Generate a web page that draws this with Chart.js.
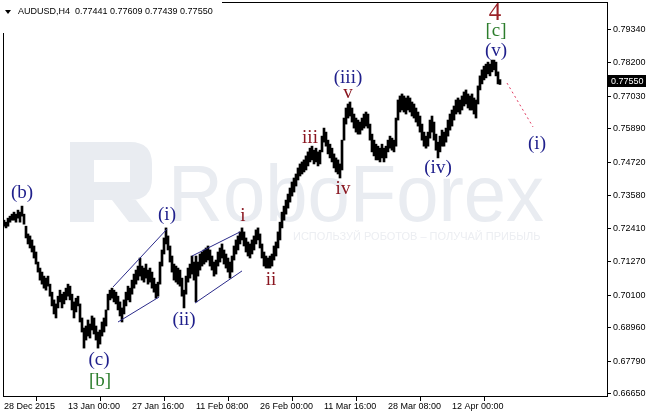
<!DOCTYPE html>
<html>
<head>
<meta charset="utf-8">
<script src="https://cdn.jsdelivr.net/npm/chart.js@4.4.1/dist/chart.umd.min.js"></script>
<style>
  html, body { margin: 0; padding: 0; background: #fff; }
  #wrap { width: 646px; height: 414px; }
</style>
</head>
<body>
<div id="wrap"><canvas id="chart" width="646" height="414"></canvas></div>
<script>
/* ---------- AUDUSD H4 bars ---------- */
const highs = [
  0.7271,0.7264,0.7278,0.7285,0.7292,0.7299,0.7292,0.7306,0.7299,0.7320,
  0.7292,0.7250,0.7223,0.7216,0.7202,0.7181,0.7160,0.7125,0.7104,0.7090,
  0.7076,0.7069,0.7076,0.7048,0.7020,0.6993,0.6979,0.7006,0.7027,0.7013,
  0.7020,0.7034,0.7048,0.7041,0.7013,0.6986,0.6999,0.7006,0.6979,0.6930,
  0.6895,0.6902,0.6923,0.6909,0.6937,0.6930,0.6902,0.6881,0.6888,0.6916,
  0.6930,0.6958,0.7013,0.7027,0.7034,0.7027,0.7020,0.7006,0.6986,0.6965,
  0.6993,0.7020,0.7041,0.7034,0.7062,0.7083,0.7097,0.7111,0.7139,0.7111,
  0.7104,0.7118,0.7097,0.7104,0.7090,0.7069,0.7048,0.7055,0.7125,0.7167,
  0.7209,0.7244,0.7216,0.7181,0.7146,0.7118,0.7111,0.7104,0.7097,0.7069,
  0.7027,0.7076,0.7104,0.7118,0.7146,0.7125,0.7146,0.7125,0.7153,0.7160,
  0.7167,0.7174,0.7181,0.7167,0.7146,0.7125,0.7132,0.7160,0.7174,0.7188,
  0.7167,0.7153,0.7139,0.7125,0.7146,0.7181,0.7202,0.7216,0.7230,0.7244,
  0.7230,0.7209,0.7195,0.7188,0.7202,0.7216,0.7237,0.7244,0.7223,0.7188,
  0.7160,0.7146,0.7139,0.7146,0.7153,0.7181,0.7195,0.7230,0.7264,0.7299,
  0.7320,0.7341,0.7362,0.7383,0.7404,0.7418,0.7432,0.7453,0.7467,0.7474,
  0.7481,0.7495,0.7509,0.7522,0.7529,0.7515,0.7522,0.7509,0.7515,0.7564,
  0.7592,0.7578,0.7550,0.7536,0.7522,0.7502,0.7488,0.7481,0.7467,0.7550,
  0.7627,0.7662,0.7676,0.7683,0.7662,0.7641,0.7627,0.7620,0.7613,0.7627,
  0.7641,0.7648,0.7641,0.7606,0.7571,0.7550,0.7536,0.7529,0.7522,0.7536,
  0.7522,0.7529,0.7550,0.7564,0.7557,0.7550,0.7627,0.7690,0.7704,0.7711,
  0.7704,0.7697,0.7704,0.7697,0.7683,0.7676,0.7662,0.7648,0.7634,0.7606,
  0.7578,0.7564,0.7578,0.7620,0.7634,0.7613,0.7571,0.7543,0.7564,0.7585,
  0.7578,0.7592,0.7620,0.7641,0.7655,0.7669,0.7690,0.7697,0.7690,0.7704,
  0.7718,0.7725,0.7711,0.7704,0.7711,0.7697,0.7690,0.7739,0.7774,0.7795,
  0.7808,0.7815,0.7822,0.7815,0.7829,0.7829,0.7822,0.7788,0.7761
];
const lows = [
  0.7250,0.7244,0.7250,0.7264,0.7271,0.7271,0.7264,0.7278,0.7264,0.7285,
  0.7257,0.7209,0.7188,0.7174,0.7160,0.7139,0.7118,0.7090,0.7062,0.7048,
  0.7034,0.7027,0.7041,0.7006,0.6972,0.6944,0.6930,0.6965,0.6986,0.6965,
  0.6979,0.6993,0.7006,0.6993,0.6958,0.6930,0.6951,0.6972,0.6916,0.6881,
  0.6825,0.6853,0.6867,0.6860,0.6888,0.6874,0.6853,0.6825,0.6839,0.6867,
  0.6881,0.6902,0.6958,0.6993,0.6999,0.6986,0.6979,0.6958,0.6937,0.6916,
  0.6944,0.6972,0.6993,0.6986,0.7013,0.7034,0.7048,0.7062,0.7076,0.7062,
  0.7055,0.7069,0.7048,0.7055,0.7034,0.7020,0.6999,0.7006,0.7048,0.7111,
  0.7153,0.7188,0.7167,0.7125,0.7090,0.7062,0.7055,0.7048,0.7041,0.7006,
  0.6965,0.7013,0.7055,0.7069,0.7083,0.7062,0.6986,0.7076,0.7097,0.7111,
  0.7118,0.7125,0.7132,0.7111,0.7097,0.7076,0.7083,0.7111,0.7125,0.7139,
  0.7118,0.7104,0.7090,0.7069,0.7090,0.7132,0.7153,0.7167,0.7188,0.7202,
  0.7181,0.7160,0.7146,0.7139,0.7153,0.7167,0.7188,0.7202,0.7174,0.7139,
  0.7111,0.7104,0.7104,0.7104,0.7111,0.7132,0.7146,0.7174,0.7202,0.7244,
  0.7271,0.7292,0.7313,0.7334,0.7355,0.7369,0.7390,0.7411,0.7425,0.7432,
  0.7439,0.7446,0.7460,0.7474,0.7481,0.7467,0.7474,0.7460,0.7467,0.7509,
  0.7543,0.7529,0.7502,0.7488,0.7474,0.7453,0.7439,0.7432,0.7418,0.7446,
  0.7550,0.7606,0.7627,0.7634,0.7613,0.7592,0.7578,0.7571,0.7571,0.7585,
  0.7592,0.7599,0.7592,0.7550,0.7509,0.7495,0.7481,0.7481,0.7474,0.7488,
  0.7474,0.7488,0.7509,0.7522,0.7515,0.7509,0.7529,0.7620,0.7648,0.7655,
  0.7648,0.7641,0.7655,0.7648,0.7634,0.7627,0.7613,0.7599,0.7578,0.7550,
  0.7529,0.7522,0.7529,0.7557,0.7578,0.7550,0.7515,0.7488,0.7509,0.7529,
  0.7529,0.7543,0.7564,0.7585,0.7599,0.7620,0.7641,0.7648,0.7641,0.7655,
  0.7669,0.7676,0.7662,0.7655,0.7655,0.7641,0.7627,0.7676,0.7725,0.7746,
  0.7760,0.7767,0.7781,0.7774,0.7788,0.7795,0.7774,0.7746,0.7744
];
const ohlcLast = [0.77441, 0.77609, 0.77439, 0.77550];

const slotCount  = 302;                       // bars incl. empty shift area
const timeTicks  = [0, 32, 64, 96, 128, 160, 192, 224];
const timeLabels = ['28 Dec 2015','13 Jan 00:00','27 Jan 16:00','11 Feb 08:00',
                    '26 Feb 00:00','11 Mar 16:00','28 Mar 08:00','12 Apr 00:00'];
const priceTicks = [0.79340,0.78200,0.77030,0.75890,0.74720,0.73580,
                    0.72410,0.71270,0.70100,0.68960,0.67790,0.66650];

/* ---------- Elliott wave markup (bar index, price) ---------- */
const NAVY = '#20208c', MAROON = '#8a1620', GREEN = '#2c7d2c';
const waveLabels = [
  { t: '(b)',   i: 9,     p: 0.7366, c: NAVY },
  { t: '(c)',   i: 47.5,  p: 0.6784, c: NAVY },
  { t: '[b]',   i: 48,    p: 0.6710, c: GREEN },
  { t: '(i)',   i: 81.5,  p: 0.7289, c: NAVY },
  { t: '(ii)',  i: 90,    p: 0.6923, c: NAVY },
  { t: 'i',     i: 119.5, p: 0.7286, c: MAROON },
  { t: 'ii',    i: 133.5, p: 0.7062, c: MAROON },
  { t: 'iii',   i: 153,   p: 0.7558, c: MAROON },
  { t: 'iv',    i: 169.5, p: 0.7380, c: MAROON },
  { t: 'v',     i: 172,   p: 0.7714, c: MAROON },
  { t: '(iii)', i: 172,   p: 0.7767, c: NAVY },
  { t: '(iv)',  i: 217,   p: 0.7453, c: NAVY },
  { t: '(v)',   i: 246,   p: 0.7861, c: NAVY },
  { t: '[c]',   i: 246,   p: 0.7931, c: GREEN },
  { t: '(i)',   i: 266.5, p: 0.7537, c: NAVY }
];
const channelLines = [
  [54.5, 0.7038, 81.5, 0.7240],
  [57,   0.6916, 77.5, 0.7003],
  [94,   0.7146, 118,  0.7230],
  [95.5, 0.6982, 119,  0.7094]
];
const forecastLine = [251.5, 0.7749, 264.5, 0.7596];

const labels = Array.from({ length: slotCount }, (_, i) => {
  const k = timeTicks.indexOf(i);
  return k >= 0 ? timeLabels[k] : '';
});
const bars = highs.map((h, i) => [lows[i], h]);

const UI_FONT = '"Liberation Sans", Arial, sans-serif';
const SERIF = '"Liberation Serif", "Times New Roman", serif';

/* ---------- Watermark + overlays ---------- */
const overlay = {
  id: 'overlay',
  beforeDatasetsDraw(chart) {
    const ctx = chart.ctx;
    ctx.save();
    ctx.fillStyle = '#e9ecf1';
    // R logo block
    ctx.beginPath();
    ctx.moveTo(70, 142);
    ctx.lineTo(130, 142);
    ctx.quadraticCurveTo(152, 142, 152, 164);
    ctx.lineTo(152, 178);
    ctx.quadraticCurveTo(152, 200, 130, 200);
    ctx.lineTo(94, 200);
    ctx.lineTo(94, 222);
    ctx.lineTo(70, 222);
    ctx.closePath();
    ctx.moveTo(94, 160);
    ctx.lineTo(94, 182);
    ctx.lineTo(130, 182);
    ctx.lineTo(130, 160);
    ctx.closePath();
    ctx.fill('evenodd');
    ctx.beginPath();
    ctx.moveTo(112, 200); ctx.lineTo(136, 200); ctx.lineTo(153, 222); ctx.lineTo(129, 222);
    ctx.closePath();
    ctx.fill();
    ctx.font = '80px ' + UI_FONT;
    ctx.textBaseline = 'alphabetic';
    ctx.textAlign = 'left';
    ctx.fillText('RoboForex', 168, 221, 376);
    ctx.fillStyle = '#eceef2';
    ctx.font = '11px ' + UI_FONT;
    ctx.fillText('ИСПОЛЬЗУЙ РОБОТОВ – ПОЛУЧАЙ ПРИБЫЛЬ', 293, 240, 255);
    ctx.restore();
  },
  afterDraw(chart) {
    const ctx = chart.ctx, xs = chart.scales.x, ys = chart.scales.y;
    const a = chart.chartArea;
    const X = v => xs.getPixelForValue(v), Y = v => ys.getPixelForValue(v);
    ctx.save();

    // channel lines
    ctx.strokeStyle = '#2a2a8a';
    ctx.lineWidth = 1;
    channelLines.forEach(l => {
      ctx.beginPath();
      ctx.moveTo(X(l[0]), Y(l[1]));
      ctx.lineTo(X(l[2]), Y(l[3]));
      ctx.stroke();
    });
    // forecast dotted line
    ctx.strokeStyle = '#e0385e';
    ctx.setLineDash([2, 3]);
    ctx.beginPath();
    ctx.moveTo(X(forecastLine[0]), Y(forecastLine[1]));
    ctx.lineTo(X(forecastLine[2]), Y(forecastLine[3]));
    ctx.stroke();
    ctx.setLineDash([]);

    // wave labels
    ctx.textAlign = 'center';
    ctx.textBaseline = 'middle';
    waveLabels.forEach(w => {
      ctx.font = '19px ' + SERIF;
      ctx.fillStyle = w.c;
      ctx.fillText(w.t, X(w.i), Y(w.p));
    });
    ctx.font = '25px ' + SERIF;
    ctx.fillStyle = '#9a2228';
    ctx.fillText('4', X(245.5), Y(0.7990));

    // frame
    ctx.strokeStyle = '#000';
    ctx.strokeRect(a.left + 0.5, a.top - 0.5, a.right - a.left, a.bottom - a.top);

    // title box
    ctx.fillStyle = '#fff';
    ctx.fillRect(0, 0, 222, 33);
    ctx.fillStyle = '#000';
    ctx.beginPath();
    ctx.moveTo(5, 10); ctx.lineTo(11, 10); ctx.lineTo(8, 14); ctx.closePath();
    ctx.fill();
    ctx.font = '9px ' + UI_FONT;
    ctx.textAlign = 'left';
    ctx.textBaseline = 'middle';
    ctx.fillText('AUDUSD,H4  ' + ohlcLast.map(v => v.toFixed(5)).join(' '), 18, 12);

    // current price marker
    const py = Math.round(Y(ohlcLast[3]));
    ctx.fillStyle = '#000';
    ctx.fillRect(a.right + 1, py - 6, 646 - a.right, 12);
    ctx.fillStyle = '#fff';
    ctx.fillText(ohlcLast[3].toFixed(5), a.right + 4, py + 0.5);
    ctx.restore();
  }
};

new Chart(document.getElementById('chart'), {
  type: 'bar',
  data: {
    labels,
    datasets: [{
      data: bars,
      backgroundColor: '#000',
      borderWidth: 0,
      barPercentage: 1,
      categoryPercentage: 1
    }]
  },
  options: {
    responsive: false,
    animation: false,
    devicePixelRatio: 1,
    layout: { padding: { left: 3, top: 3 } },
    plugins: { legend: { display: false }, tooltip: { enabled: false } },
    scales: {
      x: {
        afterBuildTicks: s => { s.ticks = timeTicks.map(v => ({ value: v })); },
        afterFit: s => { s.height = 17; s.paddingLeft = 0; s.paddingRight = 0; },
        grid: { drawOnChartArea: false, drawTicks: true, tickLength: 4, color: '#000', offset: true },
        border: { display: false },
        ticks: {
          autoSkip: false, maxRotation: 0, minRotation: 0, align: 'start', padding: 0,
          color: '#000', font: { family: UI_FONT, size: 9 }
        }
      },
      y: {
        position: 'right',
        min: 0.66545,
        max: 0.80281,
        afterBuildTicks: s => { s.ticks = priceTicks.map(v => ({ value: v })); },
        afterFit: s => { s.width = 39; s.paddingTop = 0; s.paddingBottom = 0; },
        grid: { drawOnChartArea: false, drawTicks: true, tickLength: 4, color: '#000' },
        border: { display: false },
        ticks: {
          padding: 2, color: '#000', font: { family: UI_FONT, size: 9 },
          callback: v => v.toFixed(5)
        }
      }
    }
  },
  plugins: [overlay]
});
</script>
</body>
</html>
